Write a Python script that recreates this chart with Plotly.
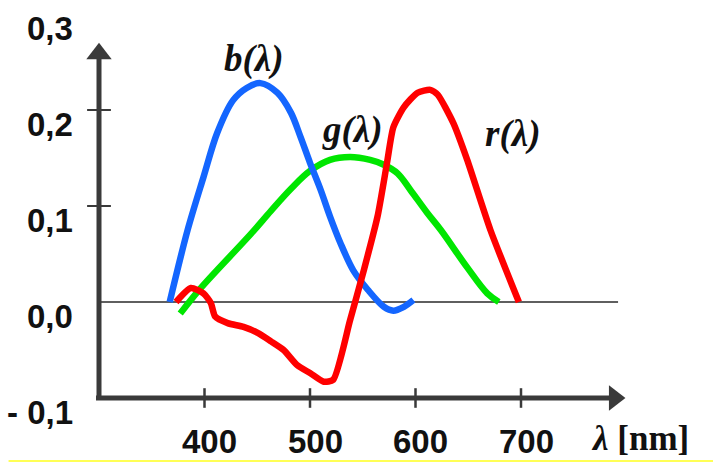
import plotly.graph_objects as go

# ---- data ----
blue_x = [367, 384, 399, 412, 427, 440, 453, 469, 482, 491, 500, 510, 519, 529, 541, 555, 570, 579, 589, 598]
blue_y = [0.0, 0.075, 0.13, 0.176, 0.21, 0.223, 0.228, 0.218, 0.197, 0.172, 0.145, 0.117, 0.089, 0.061, 0.033, 0.0125, -0.005, -0.009, -0.005, 0.002]

green_x = [377, 396, 444, 463, 482, 500, 519, 538, 557, 570, 583, 595, 611, 624, 649, 668, 679]
green_y = [-0.012, 0.014, 0.071, 0.095, 0.118, 0.1365, 0.148, 0.151, 0.148, 0.143, 0.134, 0.117, 0.093, 0.075, 0.036, 0.009, 0.0]

red_x = [373, 387, 399, 406, 410, 422, 437, 450, 463, 475, 488, 500, 513, 522, 538, 551, 564, 573, 579, 589, 602, 614, 621, 636, 649, 671, 698]
red_y = [0.0, 0.0146, 0.009, -0.001, -0.015, -0.022, -0.026, -0.032, -0.041, -0.05, -0.066, -0.074, -0.083, -0.081, -0.019, 0.033, 0.089, 0.145, 0.182, 0.203, 0.218, 0.221, 0.216, 0.186, 0.148, 0.075, 0.0]

y_tick_vals = [-0.1, 0.0, 0.1, 0.2, 0.3]
y_tick_text = ["- 0,1", "0,0", "0,1", "0,2", "0,3"]
x_tick_vals = [400, 500, 600, 700]
x_tick_text = ["400", "500", "600", "700"]

x_axis_start = 300
x_axis_end = 799
y_axis_bottom = -0.1
y_axis_top = 0.27
zero_line_end = 792

curve_labels = ["b(λ)", "g(λ)", "r(λ)"]
curve_label_x = [447, 540, 692]
curve_label_y = [0.253, 0.179, 0.175]

axis_color = "#3a3a3a"
fig = go.Figure()

# zero line
fig.add_trace(go.Scatter(x=[x_axis_start, zero_line_end], y=[0, 0], mode="lines",
                         line=dict(color="#2a2a2a", width=1.6), hoverinfo="skip"))

px_per_nm = 1.055
px_per_unit = 960.0
# axes lines
fig.add_trace(go.Scatter(x=[x_axis_start, x_axis_start], y=[y_axis_bottom, y_axis_top - 14 / px_per_unit],
                         mode="lines", line=dict(color=axis_color, width=5), hoverinfo="skip"))
fig.add_trace(go.Scatter(x=[x_axis_start - 3 / px_per_nm, x_axis_end - 14 / px_per_nm], y=[y_axis_bottom, y_axis_bottom],
                         mode="lines", line=dict(color=axis_color, width=5), hoverinfo="skip"))
# arrow heads
fig.add_trace(go.Scatter(x=[x_axis_start], y=[y_axis_top - 11 / px_per_unit], mode="markers",
                         marker=dict(symbol="triangle-up", size=22, color=axis_color), hoverinfo="skip"))
fig.add_trace(go.Scatter(x=[x_axis_end - 11 / px_per_nm], y=[y_axis_bottom], mode="markers",
                         marker=dict(symbol="triangle-right", size=22, color=axis_color), hoverinfo="skip"))
# tick marks
fig.add_trace(go.Scatter(x=[x_axis_start] * 2, y=[0.1, 0.2], mode="markers",
                         marker=dict(symbol="line-ew", size=17, line=dict(color=axis_color, width=2)), hoverinfo="skip"))
fig.add_trace(go.Scatter(x=x_tick_vals, y=[y_axis_bottom] * len(x_tick_vals), mode="markers",
                         marker=dict(symbol="line-ns", size=14, line=dict(color=axis_color, width=2.5)), hoverinfo="skip"))

# curves
fig.add_trace(go.Scatter(x=green_x, y=green_y, mode="lines", line=dict(color="#00e600", width=6.5, shape="spline", smoothing=1.0)))
fig.add_trace(go.Scatter(x=blue_x, y=blue_y, mode="lines", line=dict(color="#1466ff", width=6.5, shape="spline", smoothing=0.9)))
fig.add_trace(go.Scatter(x=red_x, y=red_y, mode="lines", line=dict(color="#ff0000", width=6.5, shape="spline", smoothing=0.6)))

ann = []
for v, t in zip(y_tick_vals, y_tick_text):
    ann.append(dict(x=277, y=v, text=f"<b>{t}</b>", showarrow=False, xanchor="right", yanchor="middle",
                    yshift=-14, font=dict(family="Liberation Sans, Arial", size=33, color="#111")))
for v, t in zip(x_tick_vals, x_tick_text):
    ann.append(dict(x=v, y=y_axis_bottom, text=f"<b>{t}</b>", showarrow=False, xanchor="center", yanchor="middle",
                    yshift=-43, xshift=5, font=dict(family="Liberation Sans, Arial", size=33, color="#111")))
ann.append(dict(x=764, y=y_axis_bottom, text="<b><i>λ</i> [nm]</b>", showarrow=False, xanchor="left", yanchor="middle",
                yshift=-40, font=dict(family="Liberation Serif, Times New Roman", size=35, color="#111")))
for t, x, y in zip(curve_labels, curve_label_x, curve_label_y):
    ann.append(dict(x=x, y=y, text=f"<b><i>{t}</i></b>", showarrow=False, xanchor="center", yanchor="middle",
                    font=dict(family="Liberation Serif, Times New Roman", size=37, color="#111")))

x0 = x_axis_start - 99 / px_per_nm
y_top = 0.0 + 302 / px_per_unit
fig.update_layout(
    width=713, height=462, margin=dict(l=0, r=0, t=0, b=0),
    paper_bgcolor="white", plot_bgcolor="white", showlegend=False,
    xaxis=dict(range=[x0, x0 + 713 / px_per_nm], visible=False),
    yaxis=dict(range=[y_top - 462 / px_per_unit, y_top], visible=False),
    annotations=ann,
    shapes=[dict(type="line", xref="paper", yref="paper", x0=0.012, x1=1, y0=0.002, y1=0.002,
                 line=dict(color="#ffff55", width=2))],
)
fig.write_html("out.html", config={"displayModeBar": False},
               post_script="document.body.style.margin='0';document.body.style.overflow='hidden';")
